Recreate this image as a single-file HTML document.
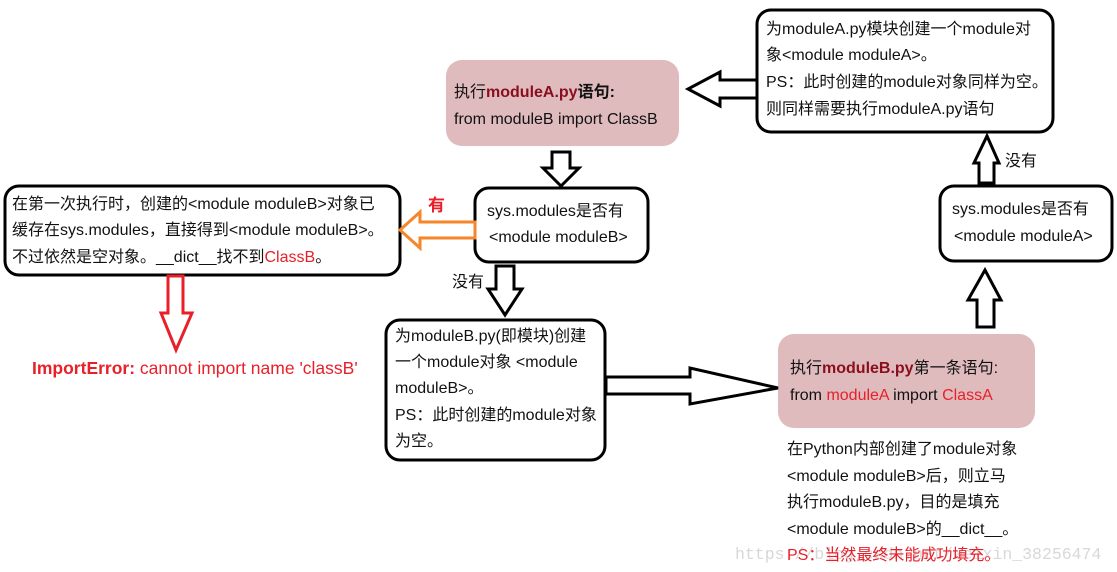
<!DOCTYPE html>
<html><head><meta charset="utf-8"><style>
html,body{margin:0;padding:0;background:#fff;}
svg{display:block;}
text{font-family:"Liberation Sans","Noto Sans CJK SC",sans-serif;font-size:16px;fill:#111;}
.r{fill:#e8202a;}
.b{font-weight:bold;fill:#8a0e1e;}
</style></head><body>
<svg width="1117" height="572" viewBox="0 0 1117 572" xmlns="http://www.w3.org/2000/svg">
<g fill="none" stroke="#000" stroke-width="3">
<rect x="757" y="10" width="296" height="122" rx="14"/>
<rect x="475" y="188" width="173" height="74" rx="14"/>
<rect x="5" y="186" width="395" height="89" rx="14"/>
<rect x="386" y="320" width="219" height="140" rx="14"/>
<rect x="940" y="186" width="172" height="75" rx="14"/>
</g>
<rect x="446" y="60" width="233" height="86" rx="16" fill="#dfbbbd"/>
<rect x="778" y="334" width="257" height="94" rx="16" fill="#dfbbbd"/>
<g fill="#fff" stroke="#000" stroke-width="3" stroke-linejoin="miter">
<polygon points="757,80 720,80 720,72 688,89 720,106 720,98 757,98"/>
<polygon points="552,152 570,152 570,168 579,168 561,186 543,168 552,168"/>
<polygon points="496,266 514,266 514,289 522,289 505,315 488,289 496,289"/>
<polygon points="606,377 690,377 690,368 778,388 690,404 690,394 606,394"/>
<polygon points="977,327 994,327 994,300 1001,300 985,270 968,300 977,300"/>
<polygon points="979,183 994,183 994,163 999,163 987,136 974,163 979,163"/>
</g>
<polygon points="475,222 420,222 420,212 400,230 420,248 420,238 475,238" fill="#fff" stroke="#f5862a" stroke-width="3"/>
<polygon points="168,276 183,276 183,313 192,313 176,350 161,313 168,313" fill="#fff" stroke="#e8202a" stroke-width="3"/>

<text x="766" y="34">为moduleA.py模块创建一个module对</text>
<text x="766" y="60">象&lt;module moduleA&gt;。</text>
<text x="766" y="87">PS：此时创建的module对象同样为空。</text>
<text x="766" y="114">则同样需要执行moduleA.py语句</text>

<text x="454" y="97">执行<tspan class="b">moduleA.py</tspan><tspan font-weight="bold">语句:</tspan></text>
<text x="454" y="124">from moduleB import ClassB</text>

<text x="487" y="216">sys.modules是否有</text>
<text x="489" y="242">&lt;module moduleB&gt;</text>

<text x="12" y="209">在第一次执行时，创建的&lt;module moduleB&gt;对象已</text>
<text x="12" y="235">缓存在sys.modules，直接得到&lt;module moduleB&gt;。</text>
<text x="12" y="262">不过依然是空对象。__dict__找不到<tspan class="r">ClassB</tspan>。</text>

<text x="428" y="211" class="r" style="font-weight:bold;font-size:17px">有</text>
<text x="452" y="287">没有</text>
<text x="1005" y="166">没有</text>

<text x="32" y="374" class="r" style="font-size:17.5px"><tspan font-weight="bold">ImportError:</tspan> cannot import name 'classB'</text>

<text x="395" y="341">为moduleB.py(即模块)创建</text>
<text x="395" y="367">一个module对象 &lt;module</text>
<text x="395" y="393">moduleB&gt;。</text>
<text x="395" y="420">PS：此时创建的module对象</text>
<text x="395" y="446">为空。</text>

<text x="952" y="214">sys.modules是否有</text>
<text x="954" y="241">&lt;module moduleA&gt;</text>

<text x="790" y="373">执行<tspan class="b">moduleB.py</tspan>第一条语句:</text>
<text x="790" y="400">from <tspan class="r">moduleA</tspan> import <tspan class="r">ClassA</tspan></text>

<text x="787" y="454">在Python内部创建了module对象</text>
<text x="787" y="481">&lt;module moduleB&gt;后，则立马</text>
<text x="787" y="507">执行moduleB.py，目的是填充</text>
<text x="787" y="534">&lt;module moduleB&gt;的__dict__。</text>
<text x="735" y="559" style="font-family:'Liberation Mono',monospace;font-size:16.5px;fill:#d8d8d8">https://blog.csdn.net/weixin_38256474</text>
<text x="787" y="560" class="r">PS：当然最终未能成功填充。</text>
</svg>
</body></html>
